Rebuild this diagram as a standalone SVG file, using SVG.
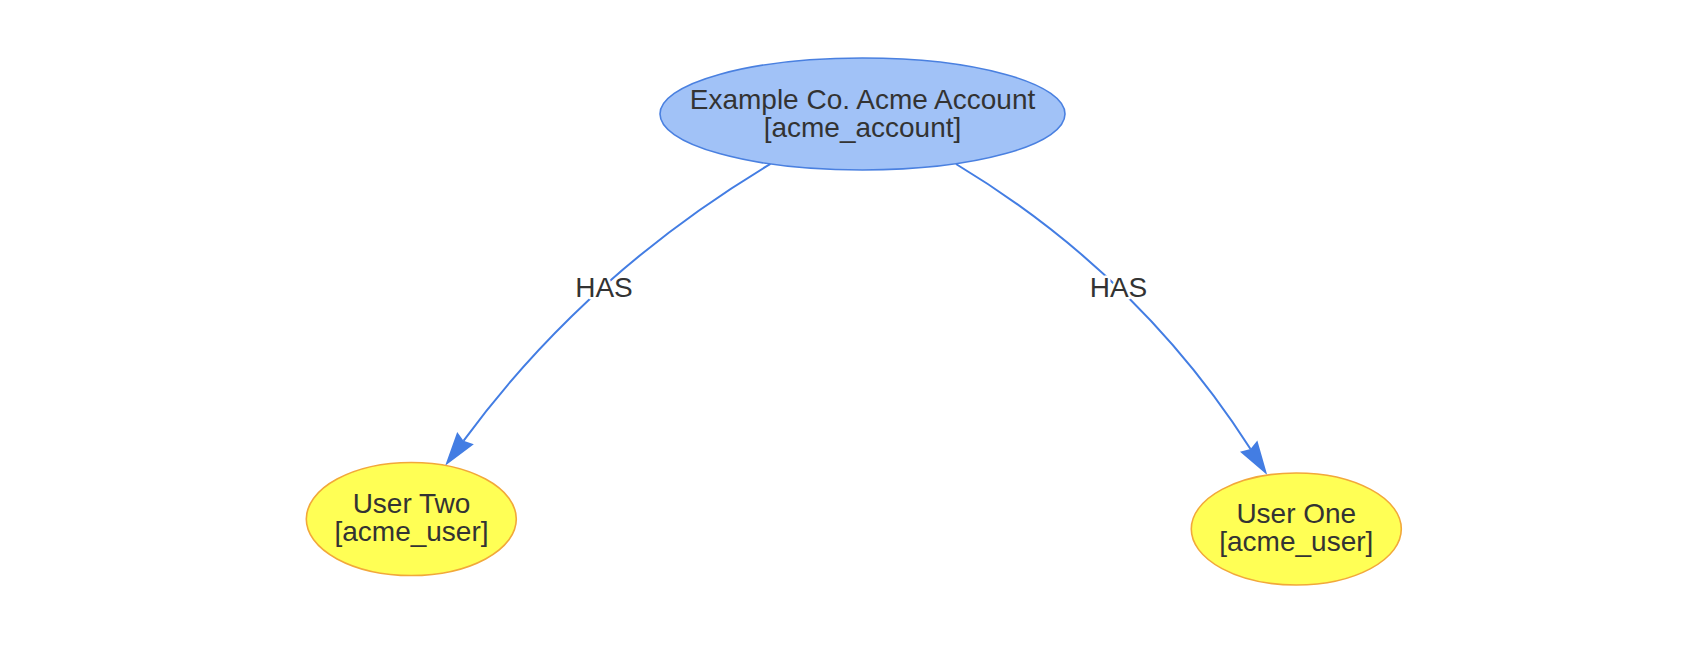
<svg xmlns="http://www.w3.org/2000/svg" width="1708" height="662" viewBox="0 0 1708 662">
<style>
.edge{fill:none;stroke:#437de3;stroke-width:2;}
.acct{fill:#a1c2f7;stroke:#4a80e0;stroke-width:1.6;}
.user{fill:#ffff55;stroke:#f2a83a;stroke-width:1.6;}
text{font-family:"Liberation Sans",Arial,Helvetica,sans-serif;font-size:28px;fill:#333333;text-anchor:middle;}
.lbl{stroke:#ffffff;stroke-width:5;paint-order:stroke;stroke-linejoin:round;}
</style>
<defs>
<marker id="arrow" markerUnits="userSpaceOnUse" viewBox="-5 -12 40 24" markerWidth="40" markerHeight="24" refX="0" refY="0" orient="auto" overflow="visible">
<path d="M31,0 L-3.4,10.3 L0,0 L-3.4,-10.3 Z" fill="#437de3"/>
</marker>
</defs>
<rect width="1708" height="662" fill="#ffffff"/>
<g id="connectors">
<path class="edge" d="M770.5,163.9 Q585.4,274.9 463.5,440.8" marker-end="url(#arrow)"/>
<path class="edge" d="M956,164 Q1138.5,274.1 1250.5,449" marker-end="url(#arrow)"/>
<text class="lbl" x="604" y="296.5">HAS</text>
<text class="lbl" x="1118.5" y="296.5">HAS</text>
</g>
<g id="acme_account">
<ellipse class="acct" cx="862.5" cy="114" rx="202.5" ry="56"/>
<text x="862.5" y="108.5">Example Co. Acme Account</text>
<text x="862.5" y="136.5">[acme_account]</text>
</g>
<g id="user_two">
<ellipse class="user" cx="411.3" cy="519" rx="105" ry="56.5"/>
<text x="411.5" y="512.5">User Two</text>
<text x="411.5" y="540.5">[acme_user]</text>
</g>
<g id="user_one">
<ellipse class="user" cx="1296.3" cy="529" rx="105" ry="56"/>
<text x="1296.3" y="522.5">User One</text>
<text x="1296.3" y="550.5">[acme_user]</text>
</g>
</svg>
